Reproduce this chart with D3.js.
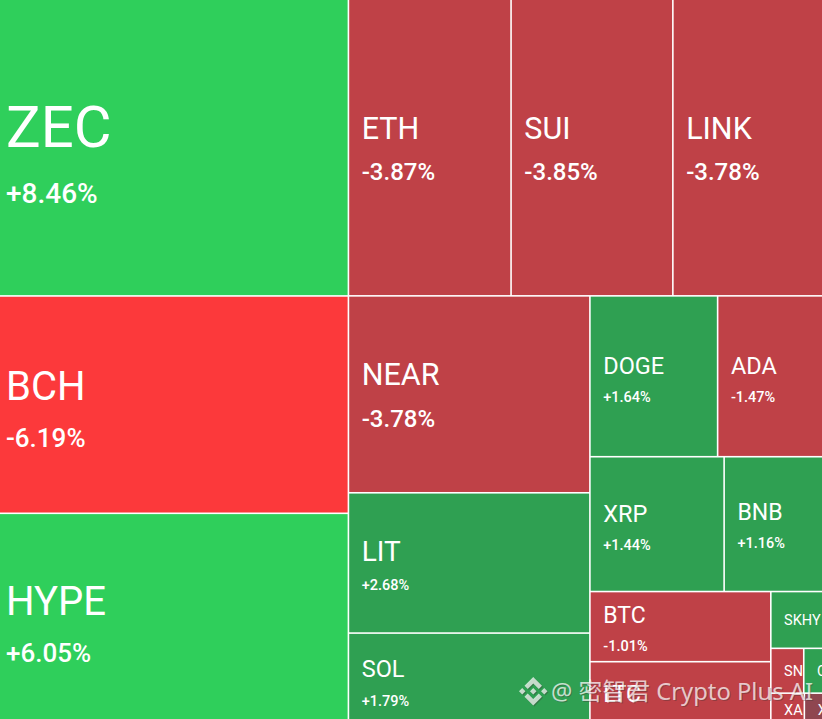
<!DOCTYPE html>
<html>
<head>
<meta charset="utf-8">
<script src="https://cdn.jsdelivr.net/npm/d3@7"></script>
<style>
html, body { margin: 0; padding: 0; background: #fff; overflow: hidden; }
svg { display: block; }
text { font-family: Roboto, sans-serif; fill: #fff; }
</style>
</head>
<body>
<div id="container"></div>
<script>
// tickers and 24h change
let symbols = ["ZEC", "BCH", "HYPE", "ETH", "SUI", "LINK", "NEAR", "LIT", "SOL", "DOGE", "ADA", "XRP", "BNB", "BTC", "LTC", "SKHY", "SN", "C", "XA", "X"]
let changes = [8.46, -6.19, 6.05, -3.87, -3.85, -3.78, -3.78, 2.68, 1.79, 1.64, -1.47, 1.44, 1.16, -1.01, -1.2, 1.1, -1.3, 1.2, -1.1, -0.3]
// relative weight of every cell (its share of the map)
let weights = [1032, 756, 739, 480.5, 478, 443, 473.6, 337.4, 223, 204.6, 168.5, 180.2, 132.5, 126.4, 115.5, 29.4, 14.7, 8.5, 10.9, 6]
// which cells get no percentage line
let hiddenChange = ["LTC", "SKHY", "SN", "C", "XA", "X"]

let width = 822
let height = 719
// the map runs a little past the bottom of the shot
let mapHeight = 725

let cell = name => {
    let i = symbols.indexOf(name)
    return {name: name, change: changes[i], value: weights[i]}
}
let group = (...children) => ({children: children.map(c => typeof c === "string" ? cell(c) : c)})

// nesting of the map, rows and columns alternate with depth
let tree = group(
    group("ZEC", "BCH", "HYPE"),
    group(
        group("ETH", "SUI", "LINK"),
        group(
            group("NEAR", "LIT", "SOL"),
            group(
                group("DOGE", "ADA"),
                group("XRP", "BNB"),
                group(
                    group("BTC", "LTC"),
                    group("SKHY", group("SN", "C"), group("XA", "X"))
                )
            )
        )
    )
)

let root = d3.treemap()
    .tile(d3.treemapSliceDice)
    .size([width, mapHeight])
    .paddingInner(1.6)
    .round(false)(d3.hierarchy(tree).sum(d => d.value || 0))

let color = d3.scaleThreshold()
    .domain([-5, -0.6, 0, 5])
    .range(["#fc393b", "#bf4147", "#8f4650", "#2fa052", "#2fcf5b"])

let area = d => (d.x1 - d.x0) * (d.y1 - d.y0)
// label sizes and offsets step with the area of the cell
let tiers = [6000, 15000, 30000, 40000, 60000, 90000]
let nameSize = d3.scaleThreshold().domain(tiers).range([14.5, 23, 23.5, 28, 30.5, 40, 58])
let nameShift = d3.scaleThreshold().domain(tiers).range([0, -12, -11, -12, -20, -19, -21])
let changeSize = d3.scaleThreshold().domain(tiers).range([14, 14.5, 14.5, 14.5, 24, 26, 28])
let changeShift = d3.scaleThreshold().domain(tiers).range([0, 19, 21, 22, 24, 33, 45])

let svg = d3.select("#container")
    .append("svg")
    .attr("width", width)
    .attr("height", height)
    .attr("viewBox", [0, 0, width, height])

let leaves = svg.append("g")
    .selectAll("g")
    .data(root.leaves())
    .join("g")
    .attr("transform", d => `translate(${d.x0},${d.y0})`)

leaves.append("rect")
    .attr("width", d => d.x1 - d.x0)
    .attr("height", d => d.y1 - d.y0)
    .attr("fill", d => color(d.data.change))

let inset = d => d.x1 - d.x0 > 300 ? 6 : 12.5
let hidden = d => hiddenChange.includes(d.data.name)

leaves.append("text")
    .attr("x", inset)
    .attr("y", d => (d.y1 - d.y0) / 2 + (hidden(d) ? 0 : nameShift(area(d))))
    .attr("dy", "0.36em")
    .attr("font-size", d => nameSize(area(d)))
    .text(d => d.data.name)

leaves.filter(d => !hidden(d))
    .append("text")
    .attr("x", inset)
    .attr("y", d => (d.y1 - d.y0) / 2 + changeShift(area(d)))
    .attr("dy", "0.36em")
    .attr("font-size", d => changeSize(area(d)))
    .attr("font-weight", 500)
    .text(d => d3.format("+.2f")(d.data.change).replace("\u2212", "-") + "%")

// watermark, dark copy underneath for the shadow
let logo = "M38.73 53.2l24.59-24.58 24.6 24.6 14.3-14.31L63.32 0 24.43 38.9zM0 63.31l14.3-14.31 14.31 14.31-14.31 14.3zM38.73 73.41l24.59 24.59 24.6-24.6 14.31 14.29-38.9 38.91-38.91-38.88-.02-.02zM98 63.31l14.3-14.31 14.31 14.31-14.31 14.3zM77.83 63.3L63.32 48.78 52.59 59.51l-1.24 1.23-2.54 2.54 14.51 14.5 14.51-14.47z"
let label = "@ 密智君 Crypto Plus AI"

let drawMark = (dx, dy, fill) => {
    let mark = svg.append("g").attr("transform", `translate(${dx},${dy})`)
    mark.append("path")
        .attr("d", logo)
        .attr("transform", "translate(519,677) scale(0.225)")
        .attr("fill", fill)
    mark.append("text")
        .attr("x", 551)
        .attr("y", 700)
        .attr("font-size", 23.8)
        .style("font-family", "'Noto Sans', 'Noto Sans CJK SC', sans-serif")
        .style("fill", fill)
        .text(label)
}
drawMark(1, 1, "rgba(60,50,50,0.35)")
drawMark(0, 0, "rgba(255,255,255,0.72)")
</script>
</body>
</html>
